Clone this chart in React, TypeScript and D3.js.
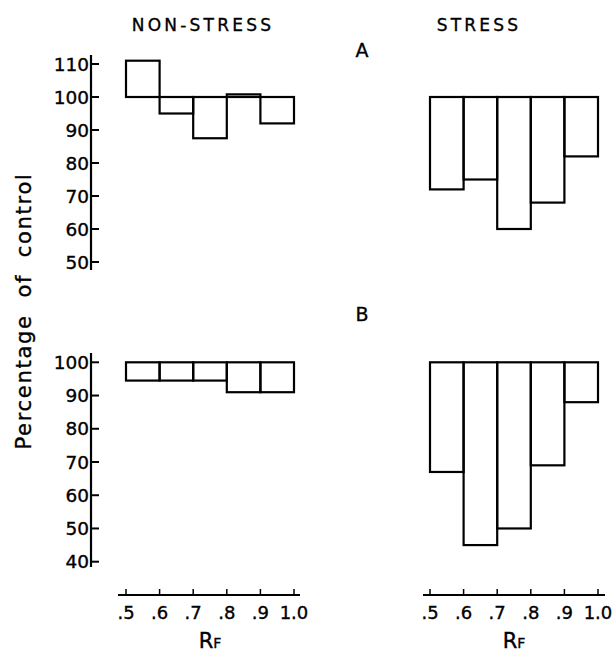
import React from "react";
import * as d3 from "d3";

const binEdges = [0.5, 0.6, 0.7, 0.8, 0.9, 1.0];
const binLabels = [".5", ".6", ".7", ".8", ".9", "1.0"];
const nonStressA = [111, 95, 87.5, 100.8, 92];
const stressA = [72, 75, 60, 68, 82];
const nonStressB = [94.5, 94.5, 94.5, 91, 91];
const stressB = [67, 45, 50, 69, 88];
const ticksA = [50, 60, 70, 80, 90, 100, 110];
const ticksB = [40, 50, 60, 70, 80, 90, 100];
const BASE = 100;

const FONT = "'DejaVu Sans', sans-serif";
const TXT = { fontFamily: FONT, stroke: "#000", strokeWidth: 0.35 };

function Bars({ values, x, y }: { values: number[]; x: d3.ScaleLinear<number, number>; y: d3.ScaleLinear<number, number> }) {
  return (
    <g fill="none" stroke="#000" strokeWidth={2.2}>
      {values.map((v, i) => {
        const x0 = x(binEdges[i]);
        const x1 = x(binEdges[i + 1]);
        const yTop = y(Math.max(v, BASE));
        const yBot = y(Math.min(v, BASE));
        return <rect key={i} x={x0} y={yTop} width={x1 - x0} height={Math.max(yBot - yTop, 0.5)} />;
      })}
    </g>
  );
}

function YAxis({ y, ticks, x0, top, bottom }: { y: d3.ScaleLinear<number, number>; ticks: number[]; x0: number; top: number; bottom: number }) {
  return (
    <g>
      <line x1={x0} x2={x0} y1={top} y2={bottom} stroke="#000" strokeWidth={2.2} />
      {ticks.map((t) => (
        <g key={t}>
          <line x1={x0} x2={x0 + 8} y1={y(t)} y2={y(t)} stroke="#000" strokeWidth={2} />
          <text x={x0 - 2} y={y(t)} dy="0.36em" textAnchor="end" {...TXT} fontSize={18.5}>
            {t}
          </text>
        </g>
      ))}
    </g>
  );
}

function XAxis({ x, y0, left, right }: { x: d3.ScaleLinear<number, number>; y0: number; left: number; right: number }) {
  const mid = (x(0.5) + x(1.0)) / 2;
  return (
    <g>
      <line x1={left} x2={right} y1={y0} y2={y0} stroke="#000" strokeWidth={2.2} />
      {binEdges.map((t, i) => (
        <g key={i}>
          <line x1={x(t)} x2={x(t)} y1={y0} y2={y0 - 6} stroke="#000" strokeWidth={1.5} />
          <text x={x(t)} y={618.5} textAnchor="middle" {...TXT} fontSize={18}>
            {binLabels[i]}
          </text>
        </g>
      ))}
      <text x={mid} y={647.5} textAnchor="middle" {...TXT}>
        <tspan fontSize={21}>R</tspan>
        <tspan fontSize={14}>F</tspan>
      </text>
    </g>
  );
}

export default function App() {
  const xL = d3.scaleLinear().domain([0.5, 1.0]).range([126, 294]);
  const xR = d3.scaleLinear().domain([0.5, 1.0]).range([430, 598]);
  const yA = d3.scaleLinear().domain([50, 110]).range([262, 64]);
  const yB = d3.scaleLinear().domain([40, 100]).range([561.7, 362.3]);

  return (
    <svg width={616} height={654} style={{ position: "absolute", left: 0, top: 0, background: "#fff" }}>
      <rect width={616} height={654} fill="#fff" />
      <text x={203} y={31} textAnchor="middle" {...TXT} fontSize={17} letterSpacing={3.2}>
        NON-STRESS
      </text>
      <text x={479} y={31} textAnchor="middle" {...TXT} fontSize={17} letterSpacing={3.2}>
        STRESS
      </text>
      <text x={362} y={57} textAnchor="middle" {...TXT} fontSize={19}>
        A
      </text>
      <text x={362} y={321} textAnchor="middle" {...TXT} fontSize={19}>
        B
      </text>
      <text transform="translate(31,311) rotate(-90)" textAnchor="middle" {...TXT} fontSize={21} letterSpacing={1.7}>
        Percentage{"\u00a0\u00a0"}of{"\u00a0\u00a0"}control
      </text>

      <YAxis y={yA} ticks={ticksA} x0={91} top={55} bottom={270} />
      <YAxis y={yB} ticks={ticksB} x0={91} top={353} bottom={567} />

      <Bars values={nonStressA} x={xL} y={yA} />
      <Bars values={stressA} x={xR} y={yA} />
      <Bars values={nonStressB} x={xL} y={yB} />
      <Bars values={stressB} x={xR} y={yB} />

      <XAxis x={xL} y0={595} left={118} right={300} />
      <XAxis x={xR} y0={595} left={423} right={605} />
    </svg>
  );
}
